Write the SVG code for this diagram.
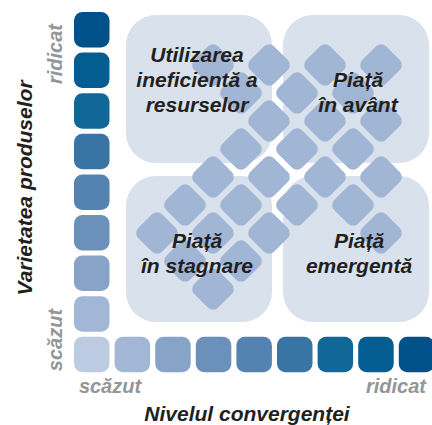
<svg xmlns="http://www.w3.org/2000/svg" xmlns:xlink="http://www.w3.org/1999/xlink" width="432" height="425" viewBox="0 0 432 425">
<defs>
<style>
.panel{fill:#d9e1ed}
.dm{fill:#a1b5d4}
.t{font-family:"Liberation Sans",Arial,sans-serif;font-weight:bold;font-style:italic;font-size:21px;fill:#231f20;text-anchor:middle}
.g{font-family:"Liberation Sans",Arial,sans-serif;font-weight:bold;font-style:italic;font-size:20px;fill:#939598;text-anchor:middle}
</style>
<rect id="d" x="-16.8" y="-16.8" width="33.6" height="33.6" rx="7" transform="rotate(45)"/>
<rect id="s" x="0" y="0" width="35.5" height="35.5" rx="8.5"/>
</defs>
<rect width="432" height="425" fill="#ffffff"/>

<g id="panels">
<g id="panel-tl"><rect class="panel" x="126" y="15" width="146" height="148" rx="30"/></g>
<g id="panel-tr"><rect class="panel" x="283" y="15" width="146" height="148" rx="30"/></g>
<g id="panel-bl"><rect class="panel" x="126" y="176" width="146" height="146" rx="30"/></g>
<g id="panel-br"><rect class="panel" x="283" y="176" width="146" height="146" rx="30"/></g>
</g>

<g id="diamonds" class="dm">
<use href="#d" x="213" y="65"/><use href="#d" x="269" y="65"/><use href="#d" x="325" y="65"/><use href="#d" x="381" y="65"/>
<use href="#d" x="241" y="93"/><use href="#d" x="297" y="93"/><use href="#d" x="353" y="93"/>
<use href="#d" x="269" y="121"/><use href="#d" x="325" y="121"/><use href="#d" x="381" y="121"/>
<use href="#d" x="241" y="149"/><use href="#d" x="297" y="149"/><use href="#d" x="353" y="149"/>
<use href="#d" x="213" y="177"/><use href="#d" x="269" y="177"/><use href="#d" x="325" y="177"/><use href="#d" x="381" y="177"/>
<use href="#d" x="185" y="205"/><use href="#d" x="241" y="205"/><use href="#d" x="297" y="205"/><use href="#d" x="353" y="205"/>
<use href="#d" x="157" y="233"/><use href="#d" x="213" y="233"/><use href="#d" x="269" y="233"/><use href="#d" x="381" y="233"/>
<use href="#d" x="185" y="261"/><use href="#d" x="241" y="261"/>
<use href="#d" x="213" y="289"/>
</g>

<g id="axis-y-squares">
<use href="#s" x="74" y="12" fill="#005189"/>
<use href="#s" x="74" y="52.6" fill="#035d91"/>
<use href="#s" x="74" y="93.2" fill="#116898"/>
<use href="#s" x="74" y="133.8" fill="#3875a5"/>
<use href="#s" x="74" y="174.4" fill="#5483b2"/>
<use href="#s" x="74" y="215" fill="#6b91bb"/>
<use href="#s" x="74" y="255.6" fill="#87a4c8"/>
<use href="#s" x="74" y="296.2" fill="#a2b6d5"/>
<use href="#s" x="74" y="336.8" fill="#bccbe2"/>
</g>
<g id="axis-x-squares">
<use href="#s" x="114.6" y="336.8" fill="#a2b6d5"/>
<use href="#s" x="155.2" y="336.8" fill="#87a4c8"/>
<use href="#s" x="195.8" y="336.8" fill="#6b91bb"/>
<use href="#s" x="236.4" y="336.8" fill="#5483b2"/>
<use href="#s" x="277" y="336.8" fill="#3875a5"/>
<use href="#s" x="317.6" y="336.8" fill="#116898"/>
<use href="#s" x="358.2" y="336.8" fill="#035d91"/>
<use href="#s" x="398.8" y="336.8" fill="#005189"/>
</g>

<g id="label-tl">
<text class="t" x="197" y="62">Utilizarea</text>
<text class="t" x="197" y="87">ineficientă a</text>
<text class="t" x="197" y="112">resurselor</text>
</g>
<g id="label-tr">
<text class="t" x="358" y="87">Piață</text>
<text class="t" x="358" y="112">în avânt</text>
</g>
<g id="label-bl">
<text class="t" x="197" y="248">Piață</text>
<text class="t" x="197" y="273">în stagnare</text>
</g>
<g id="label-br">
<text class="t" x="359" y="248">Piață</text>
<text class="t" x="359" y="273">emergentă</text>
</g>

<g id="axis-labels">
<text class="t" transform="translate(32,188) rotate(-90)">Varietatea produselor</text>
<text class="g" transform="translate(62,54) rotate(-90)">ridicat</text>
<text class="g" transform="translate(62,340) rotate(-90)">scăzut</text>
<text class="g" x="110" y="393">scăzut</text>
<text class="g" x="396" y="393">ridicat</text>
<text class="t" x="247" y="421">Nivelul convergenței</text>
</g>
</svg>
